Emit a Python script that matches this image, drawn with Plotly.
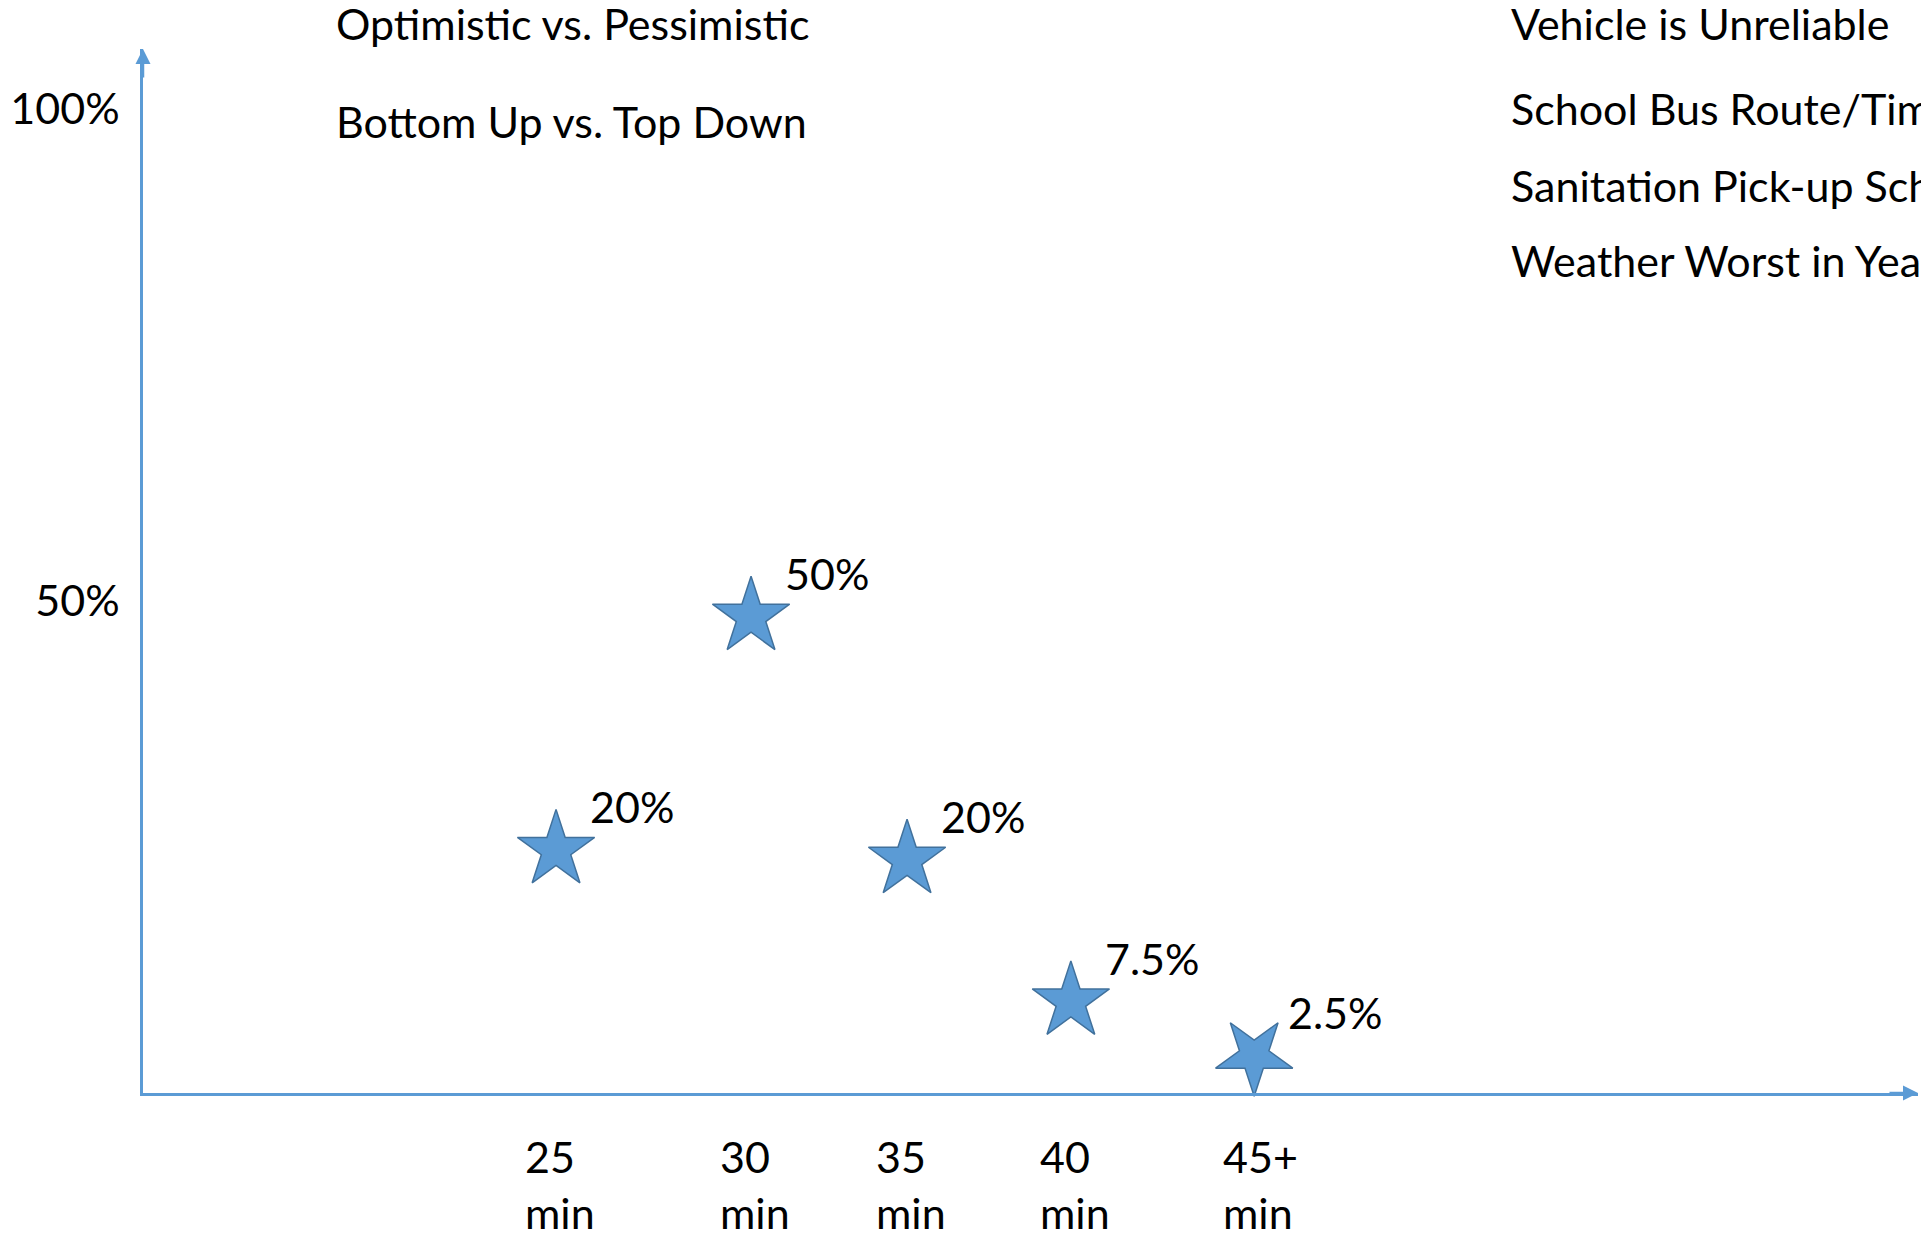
import plotly.graph_objects as go

# ---------------- data ----------------
durations = ["25<br>min", "30<br>min", "35<br>min", "40<br>min", "45+<br>min"]
star_x = [25, 30, 34.0, 38.2, 42.9]          # horizontal placement (minutes)
star_y = [24.7, 48.4, 23.7, 9.3, 3.8]        # vertical placement (%)
prob_labels = ["20%", "50%", "20%", "7.5%", "2.5%"]
star_angle = [0, 0, 0, 0, 180]
y_tick_vals = [50, 100]
y_tick_text = ["50%", "100%"]
left_notes = ["Optimistic vs. Pessimistic", "Bottom Up vs. Top Down"]
right_notes = ["Vehicle is Unreliable", "School Bus Route/Time",
               "Sanitation Pick-up Schedule", "Weather Worst in Year"]

# ---------------- layout constants ----------------
W, H = 1921, 1239
ML, MR, MT, MB = 143, 3, 49, 146
PW, PH = W - ML - MR, H - MT - MB
FONT = "Lato"
FS = 43
BLUE = "#5B9BD5"
EDGE = "#41719C"


def px_x(px):
    return (px - ML) / PW


def px_y(py):
    return 1 - (py - MT) / PH


LEFT_NOTE_X, LEFT_NOTE_Y = 334, [24, 121]
RIGHT_NOTE_X, RIGHT_NOTE_Y = 1509, [24, 108, 185, 260]

fig = go.Figure()
fig.add_trace(go.Scatter(
    x=star_x, y=star_y, mode="markers",
    marker=dict(symbol="star", size=58, color=BLUE, angle=star_angle,
                line=dict(color=EDGE, width=1.5)),
    cliponaxis=False, hoverinfo="skip", showlegend=False,
))

txt = dict(family=FONT, size=FS, color="black")
ann = []
for x, y, t in zip(star_x, star_y, prob_labels):
    ann.append(dict(x=x, y=y, xref="x", yref="y", text=t, showarrow=False,
                    xanchor="left", yanchor="middle", xshift=32, yshift=43,
                    font=txt))
for x, t in zip(star_x, durations):
    ann.append(dict(x=x, y=px_y(1129), xref="x", yref="paper", text=t,
                    showarrow=False, xanchor="left", yanchor="top", align="left",
                    xshift=-33, font=txt))
for y, t in zip(LEFT_NOTE_Y, left_notes):
    ann.append(dict(x=px_x(LEFT_NOTE_X), y=px_y(y), xref="paper", yref="paper",
                    text=t, showarrow=False, xanchor="left", yanchor="middle",
                    font=txt))
for y, t in zip(RIGHT_NOTE_Y, right_notes):
    ann.append(dict(x=px_x(RIGHT_NOTE_X), y=px_y(y), xref="paper", yref="paper",
                    text=t, showarrow=False, xanchor="left", yanchor="middle",
                    font=txt))
# axis arrowheads
ann.append(dict(x=0, y=1, xref="paper", yref="paper", ax=0, ay=30, text="",
                showarrow=True, arrowhead=2, arrowsize=1.2, arrowwidth=2.5,
                arrowcolor=BLUE))
ann.append(dict(x=1, y=0, xref="paper", yref="paper", ax=-30, ay=0, text="",
                showarrow=True, arrowhead=2, arrowsize=1.2, arrowwidth=2.5,
                arrowcolor=BLUE))

fig.update_layout(
    width=W, height=H,
    margin=dict(l=ML, r=MR, t=MT, b=MB),
    paper_bgcolor="white", plot_bgcolor="white",
    annotations=ann,
    xaxis=dict(range=[14.41, 59.92], showgrid=False, zeroline=False,
               showticklabels=False, ticks="", showline=True,
               linecolor=BLUE, linewidth=2.5),
    yaxis=dict(range=[0, 106.1], showgrid=False, zeroline=False,
               tickvals=y_tick_vals, ticktext=y_tick_text, ticks="",
               ticklabelstandoff=12,
               tickfont=txt,
               showline=True, linecolor=BLUE, linewidth=2.5),
)

fig.write_html("out.html")
